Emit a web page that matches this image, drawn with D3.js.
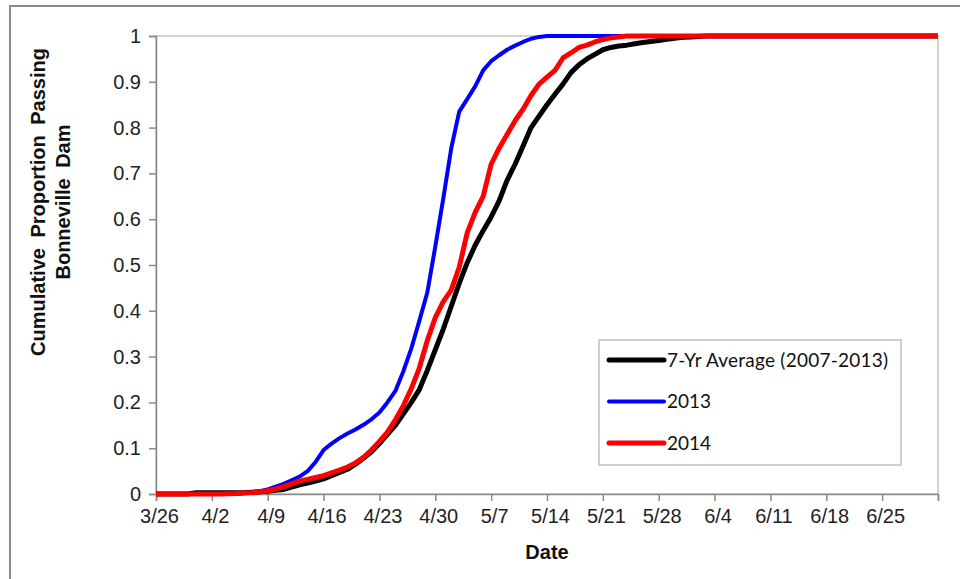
<!DOCTYPE html>
<html>
<head>
<meta charset="utf-8">
<script src="https://cdn.jsdelivr.net/npm/d3@7"></script>
<style>
  html, body { margin: 0; padding: 0; background: #fff; }
  svg { display: block; }
</style>
</head>
<body>
<svg id="chart" width="960" height="579"></svg>
<script>
// ---------------- DATA ----------------
const dates = [
  "3/26","3/30","3/31","4/3","4/5","4/6",
  "4/7","4/8","4/9","4/10","4/11","4/12","4/13","4/14","4/15","4/16",
  "4/17","4/18","4/19","4/20","4/21","4/22","4/23","4/24","4/25","4/26",
  "4/27","4/28","4/29","4/30","5/1","5/2","5/3","5/4","5/5","5/6",
  "5/7","5/8","5/9","5/10","5/11","5/12","5/13","5/14","5/15","5/16",
  "5/17","5/18","5/19","5/20","5/21","5/22","5/23","5/24","5/25","5/26",
  "5/27","5/28","5/29","5/30","5/31","6/1","6/2","6/3","6/4",
  "6/18","7/2"
];

const avg7yr = [
  0, 0, 0.003, 0.003, 0.003, 0.003,
  0.004, 0.005, 0.006, 0.008, 0.01, 0.015, 0.02, 0.024, 0.028, 0.033,
  0.04, 0.047, 0.054, 0.065, 0.078, 0.092, 0.11, 0.13, 0.15, 0.175,
  0.2, 0.228, 0.27, 0.315, 0.36, 0.41, 0.46, 0.505, 0.543, 0.575,
  0.605, 0.64, 0.685, 0.72, 0.76, 0.8, 0.825, 0.85, 0.873, 0.895,
  0.92, 0.937, 0.95, 0.96, 0.97, 0.975, 0.978, 0.98, 0.983, 0.986,
  0.988, 0.99, 0.993, 0.995, 0.997, 0.998, 0.999, 1, 1,
  1, 1
];

const y2013 = [
  0, 0, 0, 0, 0, 0.002,
  0.004, 0.006, 0.01, 0.016, 0.022, 0.03, 0.038, 0.05, 0.07, 0.096,
  0.11, 0.122, 0.132, 0.141, 0.151, 0.163, 0.178, 0.2, 0.225, 0.268,
  0.318, 0.378, 0.44, 0.54, 0.645, 0.755, 0.835, 0.862, 0.89, 0.925,
  0.945, 0.958, 0.97, 0.979, 0.987, 0.994, 0.998, 1, 1, 1,
  1, 1, 1, 1, 1, 1, 1, 1, 1, 1,
  1, 1, 1, 1, 1, 1, 1, 1, 1,
  1, 1
];

const y2014 = [
  0, 0, 0, 0, 0.001, 0.002,
  0.003, 0.005, 0.007, 0.011, 0.016, 0.022, 0.028, 0.032, 0.036, 0.04,
  0.046, 0.052, 0.059, 0.068, 0.08, 0.096, 0.115, 0.135, 0.162, 0.193,
  0.23, 0.275, 0.335, 0.385, 0.42, 0.445, 0.495, 0.57, 0.615, 0.65,
  0.72, 0.755, 0.785, 0.815, 0.84, 0.87, 0.895, 0.91, 0.925, 0.952,
  0.963, 0.975, 0.98, 0.987, 0.992, 0.996, 0.998, 1, 1, 1,
  1, 1, 1, 1, 1, 1, 1, 1, 1,
  1, 1
];

const seriesNames = ["7-Yr Average (2007-2013)", "2013", "2014"];
const seriesColors = ["#000000", "#0000ff", "#ff0000"];
const seriesWidths = [5, 4, 5];

const xTickDates = ["3/26","4/2","4/9","4/16","4/23","4/30","5/7","5/14","5/21","5/28","6/4","6/11","6/18","6/25","7/2"];
const xLabelCount = 14; // last tick (7/2) unlabeled
const yTicks = [0, 0.1, 0.2, 0.3, 0.4, 0.5, 0.6, 0.7, 0.8, 0.9, 1];

// ---------------- CHART ----------------
const parse = s => d3.timeParse("%Y/%m/%d")("2014/" + s);
const fmt = d3.timeFormat("%-m/%-d");

const svg = d3.select("#chart");
const W = 960, H = 579;
const m = { left: 156, right: 938, top: 36, bottom: 494 };

// outer chart border
svg.append("rect")
  .attr("x", 10).attr("y", 6)
  .attr("width", W + 20).attr("height", H + 20)
  .attr("fill", "#fff").attr("stroke", "#8c8c8c").attr("stroke-width", 2);

const x = d3.scaleTime()
  .domain([parse("3/26"), parse("7/2")])
  .range([m.left, m.right]);
const y = d3.scaleLinear().domain([0, 1]).range([m.bottom, m.top]);

// plot area border (light)
svg.append("rect")
  .attr("x", m.left).attr("y", m.top)
  .attr("width", m.right - m.left).attr("height", m.bottom - m.top)
  .attr("fill", "none").attr("stroke", "#c4c4c4").attr("stroke-width", 1.5);

const labelFont = "'Liberation Sans', Arial, sans-serif";

// Y axis
const yAxis = d3.axisLeft(y).tickValues(yTicks).tickSize(7).tickPadding(8)
  .tickFormat(d3.format("~g"));
const gy = svg.append("g").attr("transform", `translate(${m.left},0)`).call(yAxis);
gy.select(".domain").attr("stroke", "#8a8a8a").attr("stroke-width", 1.5);
gy.selectAll(".tick line").attr("stroke", "#8a8a8a").attr("stroke-width", 1.5);
gy.selectAll(".tick text").attr("font-family", labelFont).attr("font-size", 20)
  .attr("fill", "#222");

// X axis
const xAxis = d3.axisBottom(x).tickValues(xTickDates.map(parse)).tickSize(7).tickPadding(8)
  .tickFormat((d, i) => i < xLabelCount ? fmt(d) : "");
const gx = svg.append("g").attr("transform", `translate(0,${m.bottom})`).call(xAxis);
gx.select(".domain").attr("stroke", "#8a8a8a").attr("stroke-width", 1.5);
gx.selectAll(".tick line").attr("stroke", "#8a8a8a").attr("stroke-width", 1.5);
gx.selectAll(".tick text").attr("font-family", labelFont).attr("font-size", 20)
  .attr("fill", "#222").attr("dx", 3);

// axis titles
svg.append("text")
  .attr("x", (m.left + m.right) / 2).attr("y", 559)
  .attr("text-anchor", "middle")
  .attr("font-family", labelFont).attr("font-weight", "bold").attr("font-size", 20)
  .attr("fill", "#111").text("Date");

const yTitle = svg.append("text")
  .attr("transform", "translate(0,202) rotate(-90)")
  .attr("text-anchor", "middle")
  .attr("font-family", labelFont).attr("font-weight", "bold").attr("font-size", 20)
  .attr("word-spacing", 5)
  .attr("fill", "#111");
yTitle.append("tspan").attr("x", 0).attr("y", 45).text("Cumulative Proportion Passing");
yTitle.append("tspan").attr("x", 0).attr("y", 70).text("Bonneville Dam");

// lines
const allSeries = [avg7yr, y2013, y2014];
const line = d3.line()
  .x((d, i) => x(parse(dates[i])))
  .y(d => y(d));

allSeries.forEach((vals, k) => {
  svg.append("path")
    .datum(vals)
    .attr("fill", "none")
    .attr("stroke", seriesColors[k])
    .attr("stroke-width", seriesWidths[k])
    .attr("stroke-linejoin", "round")
    .attr("d", line);
});

// legend
const leg = svg.append("g");
leg.append("rect")
  .attr("x", 599).attr("y", 340).attr("width", 302).attr("height", 125)
  .attr("fill", "#fff").attr("stroke", "#c0c0c0").attr("stroke-width", 1.5);
const legY = d3.scalePoint().domain(seriesNames).range([360, 443]);
seriesNames.forEach((name, k) => {
  leg.append("line")
    .attr("x1", 609).attr("x2", 664)
    .attr("y1", legY(name)).attr("y2", legY(name))
    .attr("stroke", seriesColors[k]).attr("stroke-width", seriesWidths[k])
    .attr("stroke-linecap", "round");
  const t = leg.append("text")
    .attr("x", 667).attr("y", legY(name))
    .attr("dy", "0.35em")
    .attr("font-family", "Lato, 'Open Sans', sans-serif").attr("font-size", 19)
    .attr("fill", "#111").text(name);
  if (k === 0) t.attr("textLength", 221).attr("lengthAdjust", "spacing");
});
</script>
</body>
</html>
